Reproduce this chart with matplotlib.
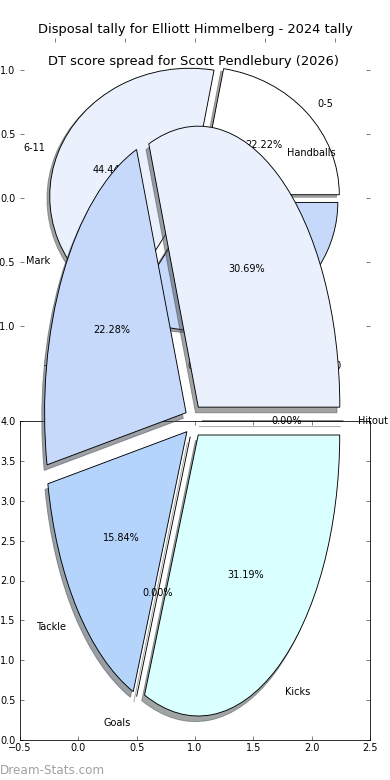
import matplotlib.pyplot as plt
import numpy as np

# DT score spread (upper pie)
dt_labels = ['0-5', '6-11', '12-17']
dt_share = [22.22, 44.44, 33.33]
dt_colors = ['#ffffff', '#eaf1fd', '#c6d9fb']

# disposal tally (big pie), counter-clockwise from 3 o'clock
disp_labels = ['Hitout', 'Handballs', 'Mark', 'Tackle', 'Goals', 'Kicks']
disp_share = [0.0, 30.69, 22.28, 15.84, 0.0, 31.19]
disp_colors = ['#dce8fc', '#eaf1fd', '#c6d9fb', '#b4d4fc', '#e3eeff', '#d9ffff']

# empty frame sitting under the big pie
frame_xticks = [-0.5, 0.0, 0.5, 1.0, 1.5, 2.0, 2.5]
frame_yticks = [0.0, 0.5, 1.0, 1.5, 2.0, 2.5, 3.0, 3.5, 4.0]
pie_ticks = [-1.0, -0.5, 0.0, 0.5, 1.0]

plt.rcParams.update({
    'font.size': 9.7,
    'xtick.direction': 'in', 'ytick.direction': 'in',
    'xtick.top': True, 'ytick.right': True,
    'xtick.major.size': 4, 'ytick.major.size': 4,
    'xtick.major.width': 0.5, 'ytick.major.width': 0.5,
    'xtick.labelsize': 9.7, 'ytick.labelsize': 9.7,
    'xtick.major.pad': 3, 'ytick.major.pad': 4.5,
})

W, H = 390, 780
fig = plt.figure(figsize=(W / 72, H / 72), dpi=72)

wedge_style = dict(edgecolor='black', linewidth=0.9)

# upper pie
ax1 = fig.add_axes([20 / W, 1 - 358 / H, 350 / W, 320 / H])
ax1.pie(dt_share, labels=dt_labels, colors=dt_colors, explode=[0.04] * len(dt_share),
        autopct='%.2f%%', shadow=True, startangle=0, wedgeprops=wedge_style,
        textprops=dict(fontsize=9.7))
ax1.set_aspect('auto')
ax1.set_xlim(-1.25, 1.25)
ax1.set_ylim(-1.25, 1.25)
ax1.set_xticks(pie_ticks)
ax1.set_yticks(pie_ticks)
ax1.set_frame_on(False)
ax1.set_title('Disposal tally for Elliott Himmelberg - 2024 tally', fontsize=13, pad=5)

# lower frame
ax3 = fig.add_axes([20 / W, 40 / H, 350 / W, 319 / H])
ax3.set_xlim(-0.5, 2.5)
ax3.set_ylim(0, 4)
ax3.set_xticks(frame_xticks)
ax3.set_yticks(frame_yticks)

# big pie on top of everything
ax2 = fig.add_axes([16.6 / W, 7.75 / H, 353.75 / W, 702.5 / H])
ax2.pie(disp_share, labels=disp_labels, colors=disp_colors, explode=[0.06] * len(disp_share),
        autopct='%.2f%%', shadow=True, startangle=0, wedgeprops=wedge_style,
        textprops=dict(fontsize=9.7))
ax2.set_aspect('auto')
ax2.set_xlim(-1.25, 1.25)
ax2.set_ylim(-1.25, 1.25)
ax2.axis('off')
ax2.set_title('DT score spread for Scott Pendlebury (2026)', fontsize=13, pad=5)

fig.text(0.0, 0.004, 'Dream-Stats.com', fontsize=12, color='#a0a0a0', ha='left', va='bottom')

fig.savefig('out.png', dpi=72, facecolor='white')
